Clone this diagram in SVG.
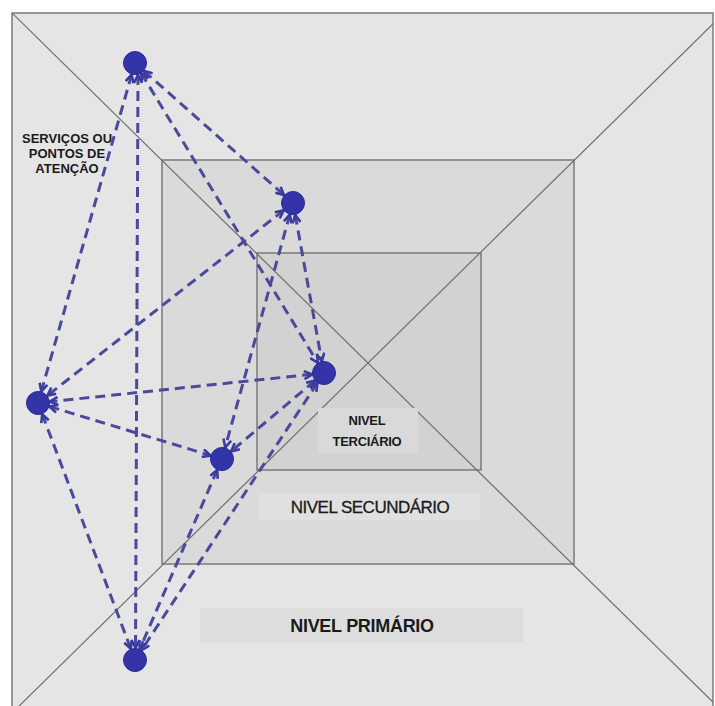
<svg xmlns="http://www.w3.org/2000/svg" width="715" height="706" viewBox="0 0 715 706">
  <style>
    .frame { stroke: #7a7a7a; stroke-width: 1.5; }
    .diag { stroke: #707070; stroke-width: 1.2; fill: none; }
    .lbl { font-family: "Liberation Sans", Arial, sans-serif; fill: #1a1a1a; text-anchor: middle; }
    .node { fill: #3333aa; stroke: #2a2a90; stroke-width: 1; }
    .edge { stroke: #4a4a9c; stroke-width: 3; stroke-dasharray: 10 6; fill: none; marker-start: url(#arr); marker-end: url(#arr); }
  </style>
  <defs>
    <clipPath id="outerClip">
      <rect x="12" y="13" width="701" height="700"/>
    </clipPath>
    <marker id="arr" viewBox="0 0 10 10" refX="9" refY="5" markerWidth="10" markerHeight="10" markerUnits="userSpaceOnUse" orient="auto-start-reverse">
      <path d="M1,1 L9,5 L1,9" fill="none" stroke="#3a3aa0" stroke-width="2.6" stroke-linejoin="miter"/>
    </marker>
  </defs>

  <rect x="0" y="0" width="715" height="706" fill="#ffffff"/>

  <g id="levels">
    <rect id="nivel-primario-area" x="12" y="13" width="701" height="700" fill="#e5e5e5" class="frame"/>
    <rect id="nivel-secundario-area" x="162" y="160" width="412" height="404" fill="#dadada" class="frame"/>
    <rect id="nivel-terciario-area" x="257" y="253" width="224" height="217" fill="#d2d2d2" class="frame"/>
    <g clip-path="url(#outerClip)">
      <line class="diag" x1="12" y1="13" x2="724" y2="713"/>
      <line class="diag" x1="724" y1="13" x2="12" y2="713"/>
    </g>
  </g>

  <g id="label-primario">
    <rect x="200" y="608" width="323" height="34" fill="#dddddd"/>
    <text class="lbl" x="362" y="632" font-size="18" font-weight="bold" letter-spacing="-0.3">NIVEL PRIMÁRIO</text>
  </g>
  <g id="label-secundario">
    <rect x="258" y="493" width="222" height="27" fill="#e0e0e0"/>
    <text class="lbl" x="370" y="513" font-size="17" letter-spacing="-0.5" stroke="#1a1a1a" stroke-width="0.3">NIVEL SECUNDÁRIO</text>
  </g>
  <g id="label-terciario">
    <rect x="318" y="408" width="100" height="45" fill="#d9d9d9"/>
    <text class="lbl" x="367" y="425" font-size="13" font-weight="bold" letter-spacing="-0.3">NIVEL</text>
    <text class="lbl" x="367" y="446" font-size="13" font-weight="bold" letter-spacing="-0.3">TERCIÁRIO</text>
  </g>
  <g id="label-servicos">
    <text class="lbl" x="67" y="143" font-size="13" font-weight="bold" fill="#333">SERVIÇOS OU</text>
    <text class="lbl" x="67" y="158" font-size="13" font-weight="bold" fill="#333">PONTOS DE</text>
    <text class="lbl" x="67" y="173" font-size="13" font-weight="bold" fill="#333">ATENÇÃO</text>
  </g>

  <g id="connectors">
    <line class="edge" x1="144" y1="71" x2="284" y2="195"/>
    <line class="edge" x1="141.2" y1="73.2" x2="317.8" y2="362.8"/>
    <line class="edge" x1="131.7" y1="74.5" x2="41.3" y2="391.5"/>
    <line class="edge" x1="138" y1="75" x2="135.5" y2="648"/>
    <line class="edge" x1="295.2" y1="214.8" x2="321.8" y2="361.2"/>
    <line class="edge" x1="283.6" y1="210.4" x2="47.4" y2="395.6"/>
    <line class="edge" x1="289.8" y1="214.6" x2="225.2" y2="447.4"/>
    <line class="edge" x1="312.1" y1="374.3" x2="49.9" y2="401.7"/>
    <line class="edge" x1="314.8" y1="380.7" x2="231.2" y2="451.3"/>
    <line class="edge" x1="317.4" y1="383" x2="141.6" y2="650"/>
    <line class="edge" x1="49.5" y1="406.5" x2="210.5" y2="455.5"/>
    <line class="edge" x1="42.2" y1="414.2" x2="130.8" y2="648.8"/>
    <line class="edge" x1="217.2" y1="470" x2="139.8" y2="649"/>
  </g>

  <g id="node1"><circle class="node" cx="135" cy="63" r="11.5"/></g>
  <g id="node2"><circle class="node" cx="293" cy="203" r="11.5"/></g>
  <g id="node3"><circle class="node" cx="324" cy="373" r="11.5"/></g>
  <g id="node4"><circle class="node" cx="38" cy="403" r="11.5"/></g>
  <g id="node5"><circle class="node" cx="222" cy="459" r="11.5"/></g>
  <g id="node6"><circle class="node" cx="135" cy="660" r="11.5"/></g>
</svg>
